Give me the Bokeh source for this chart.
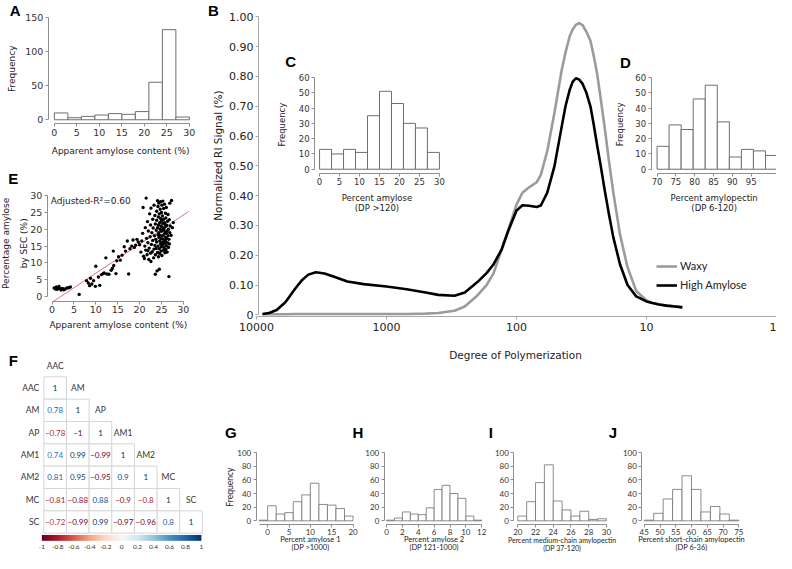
import numpy as np
from bokeh.plotting import figure
from bokeh.models import (Range1d, LinearAxis, LogAxis, FixedTicker, LogScale, Label,
                          LinearColorMapper, Legend, LegendItem, CustomJSTickFormatter,
                          ColumnDataSource)
from bokeh.transform import linear_cmap
from bokeh.core.properties import value
from bokeh.embed import file_html
from bokeh.resources import INLINE

# ----------------------------- data -----------------------------
# A: apparent amylose content histogram
a_edges = [0, 3, 6, 9, 12, 15, 18, 21, 24, 27, 30]
a_counts = [10, 3, 5, 7, 9, 8, 12, 55, 132, 4]

# B: SEC curves
b_dp = [9000, 8000, 7000, 6000, 5000, 4500, 4000, 3500, 3000, 2500, 2000, 1500, 1000, 700, 500,
        400, 300, 250, 200, 170, 150, 130, 115, 100, 90, 80, 70, 65, 58, 51, 45, 42, 39, 37, 35,
        33, 31, 29, 27, 25.5, 24, 22.5, 21, 19.5, 18, 16, 14, 12, 10, 9, 8, 7, 6, 5.3]
b_high_amylose = [0.003, 0.006, 0.016, 0.042, 0.090, 0.115, 0.135, 0.143, 0.139, 0.127, 0.112,
                  0.103, 0.095, 0.086, 0.075, 0.067, 0.064, 0.075, 0.110, 0.140, 0.170, 0.220,
                  0.285, 0.350, 0.368, 0.366, 0.362, 0.367, 0.41, 0.50, 0.63, 0.70, 0.755, 0.782,
                  0.794, 0.79, 0.775, 0.745, 0.70, 0.64, 0.57, 0.50, 0.42, 0.34, 0.26, 0.17, 0.10,
                  0.062, 0.045, 0.040, 0.035, 0.031, 0.028, 0.025]
b_waxy = [0.002, 0.002, 0.002, 0.002, 0.003, 0.003, 0.003, 0.003, 0.003, 0.003, 0.003, 0.003,
          0.003, 0.003, 0.004, 0.006, 0.014, 0.028, 0.065, 0.100, 0.140, 0.220, 0.290, 0.370,
          0.410, 0.428, 0.445, 0.47, 0.55, 0.68, 0.82, 0.88, 0.935, 0.958, 0.973, 0.979, 0.972,
          0.95, 0.92, 0.87, 0.81, 0.725, 0.63, 0.52, 0.41, 0.27, 0.16, 0.08, 0.048, 0.040,
          0.035, 0.031, 0.028, 0.026]
b_yticks = [0, 0.1, 0.2, 0.3, 0.4, 0.5, 0.6, 0.7, 0.8, 0.9, 1.0]
b_xticks = [1, 10, 100, 1000, 10000]

# C: percent amylose (DP>120)
c_edges = [0, 3, 6, 9, 12, 15, 18, 21, 24, 27, 30]
c_counts = [13, 10, 13, 11, 35, 51, 43, 30, 27, 11]

# D: percent amylopectin (DP 6-120)
d_edges = [70, 73.2, 76.4, 79.6, 82.8, 86.0, 89.2, 92.4, 95.6, 98.8, 102.0]
d_counts = [15, 29, 26, 46, 55, 31, 8, 13, 12, 9]

# E: apparent amylose vs SEC amylose
e_x = [0.5, 0.8, 1.0, 1.2, 1.4, 1.6, 1.9, 2.1, 2.4, 2.7, 3.0, 3.4, 3.8, 4.2, 6.2,
       7.9, 8.3, 8.8, 9.1, 9.5, 9.9, 8.6,
       10.0, 10.9, 10.6, 11.3, 11.7, 11.9,
       12.5, 13.0, 13.5, 13.8, 14.1, 14.0, 14.6, 12.3, 14.8,
       15.2, 15.6, 16.0, 16.5, 16.8, 17.2, 17.5, 17.8,
       18.2, 18.5, 18.8, 19.1, 19.4, 19.7, 20.0, 20.3, 20.5, 20.7, 20.8, 20.9,
       21.1, 21.2, 21.3, 21.4, 21.5, 21.6, 21.7, 21.8, 21.9, 22.0, 22.1, 22.2, 22.3, 22.4, 22.5,
       22.5, 22.6, 22.7, 22.8, 22.9, 23.0, 23.0, 23.1, 23.2, 23.3, 23.3, 23.4, 23.5, 23.5, 23.6,
       23.6, 23.7, 23.8, 23.8, 23.9, 23.9, 23.6, 22.6, 23.9, 21.9,
       24.0, 24.1, 24.1, 24.1, 24.2, 24.2, 24.2, 24.3, 24.3, 24.3, 24.4, 24.4, 24.4, 24.5, 24.5,
       24.5, 24.6, 24.6, 24.6, 24.7, 24.7, 24.7, 24.8, 24.8, 24.8, 24.9, 24.9, 24.9, 25.0, 25.0,
       25.0, 25.0, 25.1, 25.1, 25.1, 25.2, 25.2, 25.2, 25.3, 25.3, 25.3, 25.4, 25.4, 25.4, 25.5,
       25.5, 25.5, 25.6, 25.6, 25.6, 25.7, 25.7, 25.7, 25.8, 25.8, 25.8, 25.9, 25.9, 25.9, 26.0,
       26.0, 26.0, 26.1, 26.1, 26.1, 26.2, 26.2, 26.3, 26.3, 26.4, 26.4, 26.5, 26.5, 26.6, 26.6,
       26.7, 26.7, 26.8, 26.8, 26.9, 26.9, 27.0,
       27.2, 27.3, 27.5, 27.7]
e_y = [2.5, 2.2, 2.8, 2.1, 2.6, 3.0, 2.3, 1.9, 2.4, 2.0, 2.2, 2.5, 2.6, 2.8, 0.6,
       4.7, 4.0, 5.4, 3.7, 4.7, 3.0, 3.2,
       9.0, 3.3, 5.8, 6.5, 6.8, 7.0,
       6.7, 6.6, 7.8, 8.4, 9.2, 13.5, 6.8, 11.5, 10.6,
       11.8, 10.8, 12.3, 14.8, 13.5, 16.5, 6.7, 14.2,
       15.0, 16.8, 14.6, 15.3, 17.0, 16.2, 15.4, 13.2, 16.5, 18.8, 26.5, 12.0,
       11.3, 15.0, 20.5, 13.8, 29.3, 17.3, 12.4, 22.3, 16.0, 19.5, 11.0, 14.4, 24.6, 17.8, 21.3,
       12.9, 26.3, 15.5, 19.0, 13.3, 23.0, 16.7, 20.4, 11.5, 14.1, 27.2, 18.1, 24.1, 15.2, 21.6,
       12.4, 17.0, 19.7, 14.3, 25.4, 22.7, 6.6, 10.4, 16.2, 13.6,
       7.6, 28.5, 13.1, 20.5, 18.4, 26.8, 15.0, 23.7, 11.8, 21.3, 17.6, 19.0, 27.8, 14.2, 24.6,
       8.1, 16.5, 22.0, 12.8, 20.0, 18.2, 26.0, 15.6, 23.2, 28.2, 13.5, 21.0, 17.2, 19.4, 25.0,
       14.8, 22.6, 16.0, 27.2, 12.2, 20.6, 18.0, 24.0, 15.3, 21.8, 28.4, 17.0, 13.7, 19.8, 23.0,
       16.2, 26.2, 14.5, 20.2, 18.5, 22.0, 15.8, 27.5, 19.2, 21.5, 13.0, 17.6, 24.8, 16.6, 20.9,
       14.0, 23.4, 18.8, 26.5, 15.1, 21.2, 17.3, 19.5, 13.2, 22.4, 16.0, 24.4, 18.1, 14.6, 20.0,
       5.9, 17.0, 22.9, 15.6, 19.0, 27.8, 21.0,
       18.2, 28.6, 20.5, 22.0]
e_fit_intercept = -1.77
e_fit_slope = 0.868
e_fit_x = [0.0, 31.2]
e_r2_text = "Adjusted-R\u00b2=0.60"

# F: correlation matrix (lower triangle)
f_vars = ["AAC", "AM", "AP", "AM1", "AM2", "MC", "SC"]
f_r = [[1],
       [0.78, 1],
       [-0.78, -1, 1],
       [0.74, 0.99, -0.99, 1],
       [0.81, 0.95, -0.95, 0.9, 1],
       [-0.81, -0.88, 0.88, -0.9, -0.8, 1],
       [-0.72, -0.99, 0.99, -0.97, -0.96, 0.8, 1]]
cb_ticks = [-1, -0.8, -0.6, -0.4, -0.2, 0, 0.2, 0.4, 0.6, 0.8, 1]

# G-J histograms
g_edges = [-2, 0, 2, 4, 6, 8, 10, 12, 14, 16, 18, 20]
g_counts = [1, 22, 10, 12, 28, 38, 55, 24, 23, 18, 7]
h_edges = [0, 1, 2, 3, 4, 5, 6, 7, 8, 9, 10, 11, 12]
h_counts = [1, 4, 13, 10, 9, 19, 46, 52, 40, 33, 7, 1]
i_edges = [20, 21, 22, 23, 24, 25, 26, 27, 28, 29, 30]
i_counts = [7, 28, 56, 82, 29, 16, 7, 14, 2, 3]
j_edges = [45, 48, 51, 54, 57, 60, 63, 66, 69, 72, 75]
j_counts = [1, 11, 32, 46, 66, 46, 13, 21, 10, 1]

# ----------------------------- page -----------------------------
PX0, PX1 = 2.0, 790.0     # reference-pixel span shown horizontally
PY0, PY1 = 568.0, 1.0     # reference-pixel span shown vertically (bottom, top)

p = figure(width=776, height=553, x_range=Range1d(PX0, PX1), y_range=Range1d(PY0, PY1),
           x_axis_type=None, y_axis_type=None, toolbar_location=None, output_backend="svg",
           min_border=0, outline_line_color=None, background_fill_color="white")

XR, YR, XS = {}, {}, {}


class Panel:
    def __init__(self, name, xa, xb, pxa, pxb, ya, yb, pya, pyb, xlog=False):
        self.name, self.xlog = name, xlog
        if xlog:
            xa, xb = np.log10(xa), np.log10(xb)
        self.xa, self.pxa, self.kx = xa, pxa, (pxb - pxa) / (xb - xa)
        self.ya, self.pya, self.ky = ya, pya, (pyb - pya) / (yb - ya)
        XR[name] = Range1d(start=self.xv(PX0), end=self.xv(PX1))
        YR[name] = Range1d(start=self.yv(PY0), end=self.yv(PY1))
        if xlog:
            XS[name] = LogScale()

    def xv(self, px):
        v = self.xa + (px - self.pxa) / self.kx
        return float(10 ** v) if self.xlog else float(v)

    def yv(self, py):
        return float(self.ya + (py - self.pya) / self.ky)


AXC = "#8f8f8f"


def axis(pn, dim, at, ticks, bounds, size, font="DejaVu Sans", fmt=None, line=True,
         log=False, tick_out=3, standoff=2, color=AXC, label_color="#333333"):
    cls = LogAxis if log else LinearAxis
    loc = pn.yv(at) if dim == "x" else pn.xv(at)
    ax = cls(x_range_name=pn.name, y_range_name=pn.name, fixed_location=loc,
             bounds=bounds, ticker=FixedTicker(ticks=ticks))
    ax.axis_line_color = color if line else None
    ax.major_tick_line_color = color if line else None
    ax.minor_tick_line_color = None
    ax.major_tick_out = tick_out
    ax.major_tick_in = 0
    ax.major_label_text_font = font
    ax.major_label_text_font_size = size
    ax.major_label_text_color = label_color
    ax.major_label_standoff = standoff
    if fmt is not None:
        ax.formatter = fmt
    p.add_layout(ax, "below" if dim == "x" else "left")
    return ax


def label(x, y, text, size, font="DejaVu Sans", align="center", angle=0, bold=False,
          color="#222222"):
    p.add_layout(Label(x=x, y=y, text=text, text_font=font, text_font_size=size,
                       text_align=align, text_baseline="middle", angle=angle,
                       angle_units="deg", text_color=color,
                       text_font_style="bold" if bold else "normal"))


def letter(x, y, text):
    label(x, y, text, "15px", font="Liberation Sans", bold=True, color="black")


def hist(pn, edges, counts, lw=1.0, lc="#6e6e6e"):
    p.quad(left=edges[:-1], right=edges[1:], top=counts, bottom=0, fill_color="white",
           line_color=lc, line_width=lw, x_range_name=pn.name, y_range_name=pn.name)


# ----------------------------- A -----------------------------
A = Panel("A", 0, 30, 56.7, 193.8, 0, 150, 123.3, 18.3)
hist(A, a_edges, a_counts)
axis(A, "x", 127.5, [0, 5, 10, 15, 20, 25, 30], (0, 30), "9.5px")
axis(A, "y", 50.5, [0, 50, 100, 150], (0, 150), "9.5px")
label(124, 155, "Apparent amylose content (%)", "9px")
label(14, 71, "Frequency", "9px", angle=90)
letter(17, 11, "A")

# ----------------------------- E -----------------------------
E = Panel("E", 0, 30, 54.3, 187.7, 0, 30, 304.4, 201.2)
p.line(x=e_fit_x, y=[e_fit_intercept + e_fit_slope * v for v in e_fit_x],
       line_color="#e06060", line_width=0.9, x_range_name="E", y_range_name="E")
p.scatter(x=e_x, y=e_y, size=3.4, fill_color="black", line_color=None,
          x_range_name="E", y_range_name="E")
axis(E, "x", 309.3, [0, 5, 10, 15, 20, 25, 30], (0, 30), "9.5px")
axis(E, "y", 49.5, [0, 5, 10, 15, 20, 25, 30], (0, 30), "9.5px")
label(121.7, 333.3, "Apparent amylose content (%)", "9px")
label(8, 250, "Percentage amylose", "9px", angle=90)
label(26, 250, "by SEC (%)", "9px", angle=90)
label(53, 206.7, e_r2_text, "9px", align="left")
letter(15, 183.3, "E")

# ----------------------------- B -----------------------------
B = Panel("B", 10000, 1, 262, 790, 0, 1, 323.3, 17.8, xlog=True)
r_waxy = p.line(x=b_dp, y=b_waxy, line_color="#9b9b9b", line_width=2.6, line_join="round",
                x_range_name="B", y_range_name="B")
r_ha = p.line(x=b_dp, y=b_high_amylose, line_color="black", line_width=2.6, line_join="round",
              x_range_name="B", y_range_name="B")
axis(B, "y", 264, b_yticks, (0, 1), "11px", color="#a8a8a8", label_color="#222222",
     fmt=CustomJSTickFormatter(code="return tick == 0 ? '0' : tick.toFixed(2);"))
axis(B, "x", 324.5, b_xticks, (1, 10000), "11px", log=True, color="#a8a8a8",
     label_color="#222222", standoff=4,
     fmt=CustomJSTickFormatter(code="return tick.toFixed(0);"))
label(525, 364, "Degree of Polymerization", "10.5px")
label(223, 160, "Normalized RI Signal (%)", "10.5px", angle=90)
letter(218.3, 11, "B")
legend = Legend(items=[LegendItem(label="Waxy", renderers=[r_waxy]),
                       LegendItem(label="High Amylose", renderers=[r_ha])],
                location=(656, 262), orientation="vertical", glyph_width=21,
                glyph_height=12, label_height=12, spacing=6, padding=0, margin=0,
                label_standoff=3, border_line_color=None, background_fill_alpha=0,
                label_text_font="Lato", label_text_font_size="11px",
                label_text_color="#222222")
p.add_layout(legend, "center")

# ----------------------------- C -----------------------------
C = Panel("C", 0, 30, 326, 447.7, 0, 60, 174, 80)
hist(C, c_edges, c_counts)
axis(C, "x", 178.3, [0, 5, 10, 15, 20, 25, 30], (0, 30), "8.5px")
axis(C, "y", 321, [0, 10, 20, 30, 40, 50, 60], (0, 60), "8.5px")
label(384.3, 204, "Percent amylose", "8.5px")
label(384.3, 213.3, "(DP >120)", "8.5px")
label(287.7, 128.3, "Frequency", "8.5px", angle=90)
letter(296.7, 63.3, "C")

# ----------------------------- D -----------------------------
D = Panel("D", 70, 95, 668.7, 764.3, 0, 60, 174, 80)
hist(D, d_edges, d_counts)
axis(D, "x", 178.3, [70, 75, 80, 85, 90, 95], (70, 102.0), "8.5px")
axis(D, "y", 662.7, [0, 10, 20, 30, 40, 50, 60], (0, 60), "8.5px")
label(726.7, 204, "Percent amylopectin", "8.5px")
label(726.7, 213.3, "(DP 6-120)", "8.5px")
label(631, 128, "Frequency", "8.5px", angle=90)
letter(636.7, 65, "D")

# ----------------------------- F -----------------------------
F = Panel("F", 0, 6, 57.5, 195.5, 0, 6, 398.3, 535.7)
cols, rows, rs, labs = [], [], [], []
for i, row in enumerate(f_r):
    for j, v in enumerate(row):
        cols.append(j)
        rows.append(i)
        rs.append(v)
        s = f"{v:.2f}".rstrip("0").rstrip(".")
        labs.append(s.replace("-", "\u2212"))
stops = ["#67001f", "#b2182b", "#d6604d", "#f4a582", "#fddbc7", "#f7f7f7",
         "#d1e5f0", "#92c5de", "#4393c3", "#2166ac", "#053061"]
srgb = np.array([[int(c[k:k + 2], 16) for k in (1, 3, 5)] for c in stops], dtype=float)
tt = np.linspace(0, 1, 256)
pos = np.linspace(0, 1, len(stops))
pal = ["#%02x%02x%02x" % tuple(int(round(np.interp(t, pos, srgb[:, k]))) for k in range(3))
       for t in tt]
fsrc = ColumnDataSource(dict(col=cols, row=rows, r=rs, lab=labs))
p.rect(x="col", y="row", width=1, height=1, source=fsrc, fill_color="white",
       line_color="#d6d6d6", line_width=1, x_range_name="F", y_range_name="F")
p.text(x="col", y="row", text="lab", source=fsrc,
       text_color=linear_cmap("r", pal, -1, 1), text_font=value("Lato"),
       text_font_size=value("8px"), text_align="center", text_baseline="middle",
       x_range_name="F", y_range_name="F")
p.text(x=[-0.7] * len(f_vars), y=list(range(len(f_vars))), text=f_vars,
       text_font=value("Lato"), text_font_size=value("8.5px"), text_color="#333333",
       text_align="right", text_baseline="middle", x_range_name="F", y_range_name="F")
p.text(x=list(range(len(f_vars))), y=[k - 1 for k in range(len(f_vars))], text=f_vars,
       text_font=value("Lato"), text_font_size=value("8.5px"), text_color="#333333",
       text_align="center", text_baseline="middle", x_range_name="F", y_range_name="F")
letter(15, 370, "F")

CB = Panel("CB", -1, 1, 44, 206, 0, 1, 555, 549)
grad = np.linspace(-1, 1, 256).reshape(1, 256)
p.image(image=[grad], x=-1, y=0, dw=2, dh=1,
        color_mapper=LinearColorMapper(palette=pal, low=-1, high=1),
        x_range_name="CB", y_range_name="CB")
axis(CB, "x", 555, cb_ticks, (-1, 1), "6.5px", font="Lato", line=False, standoff=1,
     fmt=CustomJSTickFormatter(code=
         "if (Math.abs(tick) < 1e-9) return '0';"
         "if (Math.abs(Math.abs(tick) - 1) < 1e-9) return tick > 0 ? '1' : '-1';"
         "return tick.toFixed(1);"))

# ----------------------------- G-J -----------------------------
yt = [0, 20, 40, 60, 80, 100]
T1, T2 = 554.0, 562.0
G = Panel("G", 0, 20, 273.3, 360, 0, 100, 534.5, 464.5)
hist(G, g_edges, g_counts, lw=0.8)
axis(G, "x", 538, [0, 5, 10, 15, 20], (-2, 20), "8px", font="Lato")
axis(G, "y", 261.7, yt, (0, 100), "8px", font="Lato")
label(316.7, T1, "Percent amylose 1", "7.5px", font="Lato")
label(316.7, T2, "(DP >1000)", "7.5px", font="Lato")
label(235, 500, "Frequency", "8.5px", font="Lato", angle=90)
letter(236, 444, "G")

H = Panel("H", 0, 12, 394, 490.7, 0, 100, 534.5, 464.5)
hist(H, h_edges, h_counts, lw=0.8)
axis(H, "x", 538, [0, 2, 4, 6, 8, 10, 12], (0, 12), "8px", font="Lato")
axis(H, "y", 391.7, yt, (0, 100), "8px", font="Lato")
label(442.3, T1, "Percent amylose 2", "7.5px", font="Lato")
label(442.3, T2, "(DP 121-1000)", "7.5px", font="Lato")
letter(365, 444, "H")

I = Panel("I", 20, 30, 527.3, 617.3, 0, 100, 534.5, 464.5)
hist(I, i_edges, i_counts, lw=0.8)
axis(I, "x", 538, [20, 22, 24, 26, 28, 30], (20, 30), "8px", font="Lato")
axis(I, "y", 523.3, yt, (0, 100), "8px", font="Lato")
label(572.3, T1, "Percent medium-chain amylopectin", "7px", font="Lato")
label(572.3, T2, "(DP 37-120)", "7px", font="Lato")
letter(500, 444, "I")

J = Panel("J", 45, 75, 655.7, 751.7, 0, 100, 534.5, 464.5)
hist(J, j_edges, j_counts, lw=0.8)
axis(J, "x", 538, [45, 50, 55, 60, 65, 70, 75], (45, 75), "8px", font="Lato")
axis(J, "y", 653.3, yt, (0, 100), "8px", font="Lato")
label(703.7, T1, "Percent short-chain amylopectin", "7.5px", font="Lato")
label(703.7, T2, "(DP 6-36)", "7.5px", font="Lato")
letter(624, 444, "J")

p.extra_x_ranges = XR
p.extra_y_ranges = YR
p.extra_x_scales = XS

open("out.html", "w").write(file_html(p, INLINE))
